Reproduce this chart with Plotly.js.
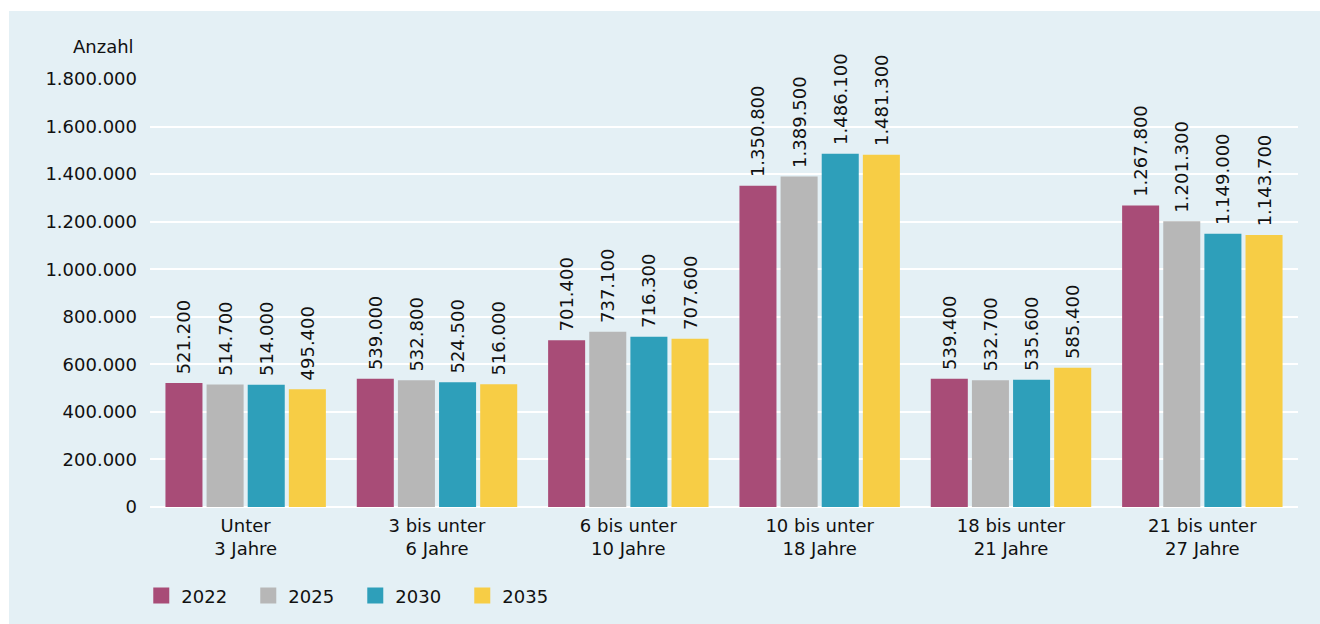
<!DOCTYPE html>
<html>
<head>
<meta charset="utf-8">
<script src="https://cdn.plot.ly/plotly-3.0.1.min.js"></script>
<style>
html,body{margin:0;padding:0;background:#ffffff;width:1320px;height:624px;overflow:hidden;}
#chart{position:absolute;left:9px;top:11px;width:1311px;height:613px;}
</style>
</head>
<body>
<div id="chart"></div>
<script>
var categories = ["Unter<br>3 Jahre", "3 bis unter<br>6 Jahre", "6 bis unter<br>10 Jahre", "10 bis unter<br>18 Jahre", "18 bis unter<br>21 Jahre", "21 bis unter<br>27 Jahre"];
var seriesNames = ["2022", "2025", "2030", "2035"];
var values2022 = [521200, 539000, 701400, 1350800, 539400, 1267800];
var values2025 = [514700, 532800, 737100, 1389500, 532700, 1201300];
var values2030 = [514000, 524500, 716300, 1486100, 535600, 1149000];
var values2035 = [495400, 516000, 707600, 1481300, 585400, 1143700];
var colors = ["#a84c77", "#b7b7b7", "#2e9fba", "#f7cd45"];
var allValues = [values2022, values2025, values2030, values2035];

var FONT = "DejaVu Sans, Arial, sans-serif";

var traces = allValues.map(function(vals, i){
  return {
    type: "bar",
    name: seriesNames[i],
    x: categories,
    y: vals,
    marker: {color: colors[i], line: {width: 0}},
    texttemplate: "\u00a0%{y:,d}",
    textposition: "outside",
    textangle: -90,
    constraintext: "none",
    textfont: {family: FONT, size: 18, color: "#111111"},
    cliponaxis: false,
    hoverinfo: "skip"
  };
});

var layout = {
  width: 1311,
  height: 613,
  paper_bgcolor: "#e4f0f5",
  plot_bgcolor: "#e4f0f5",
  separators: ",.",
  font: {family: FONT, size: 18, color: "#111111"},
  margin: {l: 141, r: 22, t: 68, b: 117, pad: 0, autoexpand: false},
  barmode: "group",
  bargap: 0.14,
  bargroupgap: 0.1,
  showlegend: true,
  legend: {
    orientation: "h",
    xref: "paper", x: -0.0076, xanchor: "left",
    yref: "container", y: 0.046, yanchor: "middle",
    font: {family: FONT, size: 18, color: "#111111"},
    entrywidth: 62, entrywidthmode: "pixels",
    bgcolor: "rgba(0,0,0,0)",
    traceorder: "normal"
  },
  xaxis: {
    showgrid: false,
    showline: false,
    zeroline: false,
    ticks: "",
    automargin: false,
    tickfont: {family: FONT, size: 18, color: "#111111"},
    ticklabelstandoff: 6
  },
  yaxis: {
    range: [0, 1800000],
    dtick: 200000,
    tick0: 0,
    tickformat: ",d",
    automargin: false,
    showgrid: true,
    gridcolor: "#ffffff",
    gridwidth: 2,
    zeroline: true,
    zerolinecolor: "#ffffff",
    zerolinewidth: 2,
    showline: false,
    ticks: "",
    ticklabelstandoff: 12,
    tickfont: {family: FONT, size: 18, color: "#111111"}
  },
  annotations: [{
    text: "Anzahl",
    xref: "paper", yref: "paper",
    x: -0.0122, xanchor: "right",
    y: 1.077, yanchor: "middle",
    showarrow: false,
    font: {family: FONT, size: 18, color: "#111111"}
  }]
};

Plotly.newPlot("chart", traces, layout, {displayModeBar: false, staticPlot: true}).then(function(gd){
  var paths = gd.querySelectorAll(".legend .legendpoints path");
  paths.forEach(function(p){ p.setAttribute("d", "M8,8H-8V-8H8Z"); });
});
</script>
</body>
</html>
